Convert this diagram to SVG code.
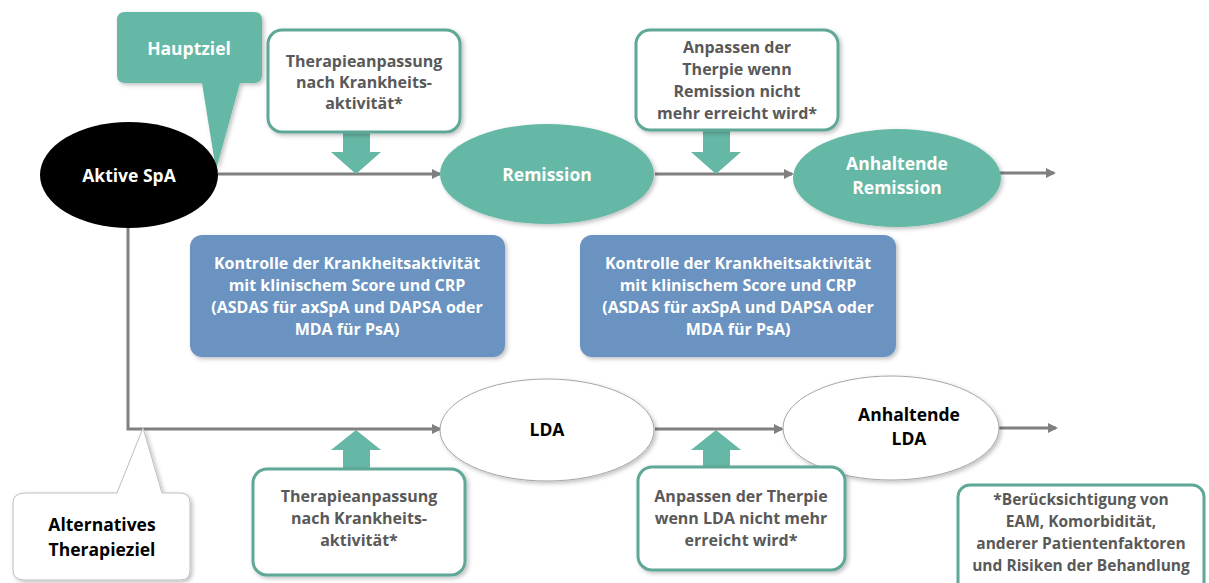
<svg xmlns="http://www.w3.org/2000/svg" width="1209" height="583" viewBox="0 0 1209 583">
<style>
text{font-family:"Open Sans",Lato,"Liberation Sans",sans-serif;font-weight:bold;text-anchor:middle}
.dk{fill:#595959;font-size:16px}
.fn{fill:#595959;font-size:15.5px}
.wt{fill:#ffffff;font-size:17.5px}
.bk{fill:#000000;font-size:17.5px}
.bl{fill:#ffffff;font-size:16px}
.box{fill:#ffffff;stroke:#5fa898;stroke-width:3}
.line{stroke:#808080;stroke-width:3;fill:none}
.teal{fill:#66b8a6}
</style>
<defs>
<marker id="ah" markerWidth="10" markerHeight="10" refX="8" refY="5" orient="auto" markerUnits="userSpaceOnUse">
<path d="M0,0 L10,5 L0,10 z" fill="#808080"/>
</marker>
<filter id="sh" x="-10%" y="-10%" width="130%" height="130%">
<feDropShadow dx="2" dy="2" stdDeviation="2" flood-color="#000" flood-opacity="0.25"/>
</filter>
</defs>

<g id="connectors">
<line class="line" x1="218" y1="174" x2="440" y2="174" marker-end="url(#ah)"/>
<line class="line" x1="655" y1="174" x2="792" y2="174" marker-end="url(#ah)"/>
<line class="line" x1="1000" y1="173" x2="1054" y2="173" marker-end="url(#ah)"/>
<polyline class="line" points="128,228 128,429 440,429" marker-end="url(#ah)"/>
<line class="line" x1="655" y1="429" x2="782" y2="429" marker-end="url(#ah)"/>
<line class="line" x1="998" y1="428" x2="1056" y2="428" marker-end="url(#ah)"/>
<path class="teal" d="M343,132 H370 V152 H381 L356,174 L331,152 H343 Z"/>
<path class="teal" d="M703,130 H730 V152 H741 L716,174 L691,152 H703 Z"/>
<path class="teal" d="M343,469 H370 V450 H381 L356,430 L331,450 H343 Z"/>
<path class="teal" d="M703,467 H730 V450 H741 L716,430 L691,450 H703 Z"/>
</g>

<g id="hauptziel">
<path class="teal" filter="url(#sh)" d="M125,12 H254 Q262,12 262,20 V75 Q262,83 254,83 H240 L216,170 L202,83 H125 Q117,83 117,75 V20 Q117,12 125,12 Z"/>
<text class="wt" x="189" y="55">Hauptziel</text>
</g>

<g id="aktive">
<ellipse cx="129" cy="175" rx="89" ry="53" fill="#000000"/>
<text class="wt" x="129" y="182">Aktive SpA</text>
</g>

<g id="remission">
<ellipse cx="547" cy="174" rx="107" ry="50" fill="#66b8a6" filter="url(#sh)"/>
<text class="wt" x="547" y="181">Remission</text>
</g>

<g id="anh-remission">
<ellipse cx="897" cy="178" rx="104" ry="49" fill="#66b8a6" filter="url(#sh)"/>
<text class="wt" x="897" y="170">Anhaltende</text>
<text class="wt" x="897" y="194">Remission</text>
</g>

<g id="therapie-top">
<rect class="box" filter="url(#sh)" x="268" y="30" width="192" height="102" rx="14"/>
<text class="dk" x="364" y="67">Therapieanpassung</text>
<text class="dk" x="364" y="88">nach Krankheits-</text>
<text class="dk" x="364" y="109">aktivität*</text>
</g>

<g id="anpassen-top">
<rect class="box" filter="url(#sh)" x="636" y="30" width="202" height="100" rx="14"/>
<text class="dk" x="737" y="53">Anpassen der</text>
<text class="dk" x="737" y="75">Therpie wenn</text>
<text class="dk" x="737" y="97">Remission nicht</text>
<text class="dk" x="737" y="119">mehr erreicht wird*</text>
</g>

<g id="kontrolle-1">
<rect x="190" y="235" width="315" height="122" rx="12" fill="#6b93c1" filter="url(#sh)"/>
<text class="bl" x="347" y="269">Kontrolle der Krankheitsaktivität</text>
<text class="bl" x="347" y="291">mit klinischem Score und CRP</text>
<text class="bl" x="347" y="313">(ASDAS für axSpA und DAPSA oder</text>
<text class="bl" x="347" y="335">MDA für PsA)</text>
</g>

<g id="kontrolle-2">
<rect x="580" y="235" width="316" height="122" rx="12" fill="#6b93c1" filter="url(#sh)"/>
<text class="bl" x="738" y="269">Kontrolle der Krankheitsaktivität</text>
<text class="bl" x="738" y="291">mit klinischem Score und CRP</text>
<text class="bl" x="738" y="313">(ASDAS für axSpA und DAPSA oder</text>
<text class="bl" x="738" y="335">MDA für PsA)</text>
</g>

<g id="lda">
<ellipse cx="547" cy="430" rx="107" ry="51" fill="#ffffff" stroke="#a6a6a6" stroke-width="1" filter="url(#sh)"/>
<text class="bk" x="547" y="436">LDA</text>
</g>

<g id="anh-lda">
<ellipse cx="891" cy="428" rx="108" ry="52" fill="#ffffff" stroke="#a6a6a6" stroke-width="1" filter="url(#sh)"/>
<text class="bk" x="909" y="421">Anhaltende</text>
<text class="bk" x="909" y="445">LDA</text>
</g>

<g id="alternatives">
<path fill="#ffffff" stroke="#bfbfbf" stroke-width="1" filter="url(#sh)" d="M25,493 H117 L143,428 L162,493 H180 Q190,493 190,503 V570 Q190,580 180,580 H25 Q13,580 13,570 V503 Q13,493 25,493 Z"/>
<text class="bk" x="102" y="531">Alternatives</text>
<text class="bk" x="102" y="556">Therapieziel</text>
</g>

<g id="therapie-bottom">
<rect class="box" filter="url(#sh)" x="253" y="469" width="212" height="106" rx="14"/>
<text class="dk" x="359" y="502">Therapieanpassung</text>
<text class="dk" x="359" y="524">nach Krankheits-</text>
<text class="dk" x="359" y="546">aktivität*</text>
</g>

<g id="anpassen-bottom">
<rect class="box" filter="url(#sh)" x="638" y="467" width="207" height="103" rx="14"/>
<text class="dk" x="741" y="502">Anpassen der Therpie</text>
<text class="dk" x="741" y="524">wenn LDA nicht mehr</text>
<text class="dk" x="741" y="546">erreicht wird*</text>
</g>

<g id="footnote">
<rect class="box" x="958" y="485" width="246" height="110" rx="12"/>
<text class="fn" x="1081" y="505">*Berücksichtigung von</text>
<text class="fn" x="1081" y="527">EAM, Komorbidität,</text>
<text class="fn" x="1081" y="549">anderer Patientenfaktoren</text>
<text class="fn" x="1081" y="571">und Risiken der Behandlung</text>
</g>
</svg>
